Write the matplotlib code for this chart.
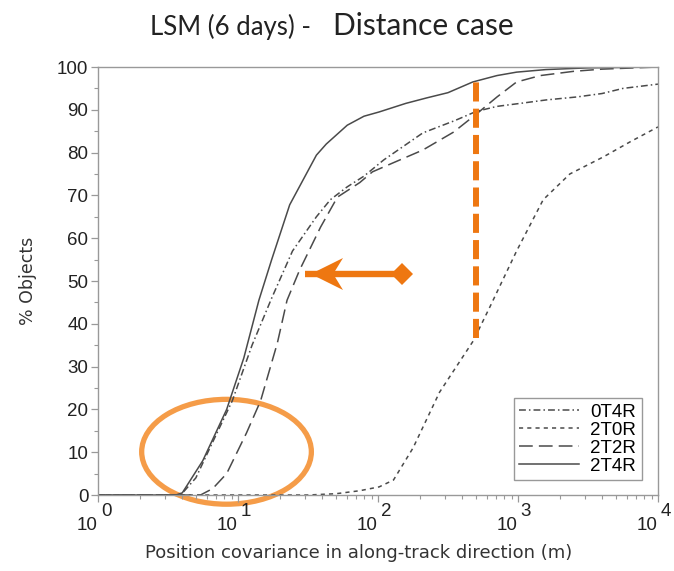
import matplotlib
matplotlib.use("Agg")
import matplotlib.pyplot as plt
from matplotlib.patches import Ellipse, Polygon
from matplotlib.ticker import LogLocator, NullFormatter, MultipleLocator

# Cumulative curves (x in metres, y in % objects)
x_0t4r = [1, 3.9, 5.0, 6.3, 9.1, 12.6, 17.4, 24.5, 36.3, 45.7, 60.3, 79.4, 110, 209, 355, 501, 708, 1096, 1585, 2630, 3981, 5623, 10000]
y_0t4r = [0, 0, 4, 11, 22, 35, 46, 57, 65, 69, 72, 74.5, 78.3, 84.6, 87.5, 89.6, 90.8, 91.6, 92.3, 93, 93.8, 95, 96]

x_2t0r = [1, 31.6, 50.1, 74.1, 102, 129, 178, 275, 479, 631, 977, 1514, 2344, 4074, 6310, 10000]
y_2t0r = [0, 0, 0.3, 1, 1.9, 3.5, 11, 24, 36, 44, 57, 69, 75, 79, 82.5, 86]

x_2t2r = [1, 5.4, 6.6, 8.3, 11.5, 14.5, 19.1, 22.4, 27.5, 38.9, 51.3, 74.1, 91.2, 126, 209, 347, 513, 708, 977, 1445, 2512, 3981, 10000]
y_2t2r = [0, 0, 1.5, 5, 14.5, 22, 35.5, 45.5, 52.5, 62.6, 69.6, 73, 75.5, 77.5, 80.6, 84.8, 89.2, 93, 96.5, 98, 99, 99.5, 100]

x_2t4r = [1, 3.6, 4.0, 5.6, 8.3, 11.0, 14.1, 17.4, 23.4, 36.3, 42.7, 60.3, 79.4, 102, 158, 224, 316, 475, 708, 977, 1585, 3162, 10000]
y_2t4r = [0, 0, 0.5, 8, 20, 32, 45.5, 55, 67.8, 79.4, 82, 86.4, 88.5, 89.5, 91.5, 92.8, 94, 96.5, 98, 98.8, 99.4, 99.8, 100]

series_labels = ["0T4R", "2T0R", "2T2R", "2T4R"]
decades = [1, 10, 100, 1000, 10000]
exponents = ["0", "1", "2", "3", "4"]

line_col = "#4a4a4a"
orange = "#ee7711"
light_orange = "#f59c48"

fig = plt.figure(figsize=(6.74, 5.71), dpi=100)
ax = fig.add_axes([98 / 674, 1 - 495 / 571, 560 / 674, 428 / 571])

ax.plot(x_0t4r, y_0t4r, color=line_col, lw=1.1, ls=(0, (4.5, 2, 1, 2)), label=series_labels[0])
ax.plot(x_2t0r, y_2t0r, color=line_col, lw=1.1, ls=(0, (2.7, 2.7)), label=series_labels[1])
ax.plot(x_2t2r, y_2t2r, color=line_col, lw=1.1, ls=(0, (9, 4)), label=series_labels[2])
ax.plot(x_2t4r, y_2t4r, color=line_col, lw=1.1, ls="-", label=series_labels[3])

ax.set_xscale("log")
ax.set_xlim(1, 10000)
ax.set_ylim(0, 100)
ax.yaxis.set_major_locator(MultipleLocator(10))
ax.yaxis.set_minor_locator(MultipleLocator(5))
ax.xaxis.set_minor_locator(LogLocator(base=10, subs=range(2, 10), numticks=20))
ax.xaxis.set_minor_formatter(NullFormatter())
ax.set_xticks(decades)
ax.set_xticklabels([""] * len(decades))

for s in ax.spines.values():
    s.set_color("#999999")
    s.set_linewidth(1.0)
ax.tick_params(which="major", length=5, width=0.9, color="#999999", labelsize=13.5,
               labelcolor="#222222", pad=2)
ax.tick_params(which="minor", length=3, width=0.8, color="#999999")
for lab in ax.get_yticklabels():
    lab.set_family("Liberation Sans")

# broken "10 ^ n" tick labels like in the reference
for d, e in zip(decades, exponents):
    ax.annotate("10", xy=(d, 0), xycoords=("data", "axes fraction"), xytext=(0, -15.5),
                textcoords="offset points", ha="right", va="top", fontsize=13.5,
                family="Liberation Sans", color="#222222", annotation_clip=False)
    ax.annotate(e, xy=(d, 0), xycoords=("data", "axes fraction"), xytext=(2, -5.5),
                textcoords="offset points", ha="left", va="top", fontsize=13.5,
                family="Liberation Sans", color="#222222", annotation_clip=False)

ax.set_ylabel("% Objects", fontsize=12.5, color="#333333", labelpad=14)
fig.text(359 / 674, 1 - 553 / 571, "Position covariance in along-track direction (m)",
         fontsize=13, color="#333333", ha="center", va="center")

leg = ax.legend(loc="lower right", fontsize=13.5, handlelength=3.2, handletextpad=0.6,
                labelspacing=0.05, borderpad=0.3, fancybox=False, framealpha=1,
                edgecolor="#999999", prop={"family": "Liberation Sans", "size": 13.5},
                bbox_to_anchor=(0.988, 0.012))
leg.get_frame().set_linewidth(1.0)

# orange overlays
ax.plot([501, 501], [36.7, 97], color=orange, lw=4.3, ls=(0, (3.2, 1.2)),
        dash_capstyle="butt", solid_capstyle="butt")
ax.plot([30, 148], [51.6, 51.6], color=orange, lw=4.6, solid_capstyle="butt")
ax.plot([148], [51.6], marker="D", color=orange, markersize=11, markeredgewidth=0)
head = Polygon([(0.380, 0.5164), (0.4375, 0.5537), (0.420, 0.5164), (0.4375, 0.479)],
               closed=True, transform=ax.transAxes, facecolor=orange, edgecolor="none")
ax.add_patch(head)
ell = Ellipse((0.2295, 0.101), 0.303, 0.245, transform=ax.transAxes, fill=False,
              edgecolor=light_orange, lw=3.8, clip_on=False)
ax.add_patch(ell)

fig.text(150 / 674, 1 - 35 / 571, "LSM (6 days) -", fontsize=18.5, family="Lato",
         color="#222222", ha="left", va="baseline")
fig.text(333 / 674, 1 - 35 / 571, "Distance case", fontsize=21.5, family="Lato",
         color="#222222", ha="left", va="baseline")

fig.savefig("out.png", dpi=100)
